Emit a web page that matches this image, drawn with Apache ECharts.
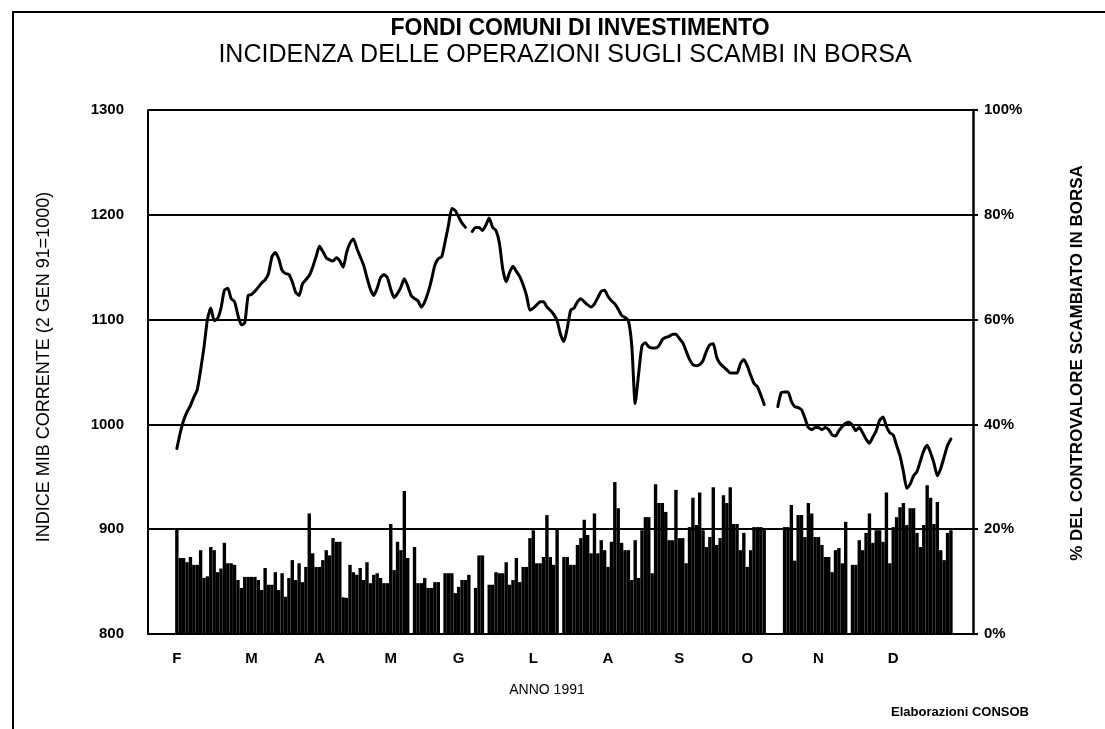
<!DOCTYPE html>
<html>
<head>
<meta charset="utf-8">
<script src="https://cdn.jsdelivr.net/npm/echarts@6/dist/echarts.min.js"></script>
<style>
  html, body { margin: 0; padding: 0; background: #fff; }
  #chart { width: 1105px; height: 729px; }
</style>
</head>
<body>
<div id="chart"></div>
<script>
// Mesi (etichette asse X) e giorno di borsa su cui cade ciascuna etichetta
const mesi = ['F', 'M', 'A', 'M', 'G', 'L', 'A', 'S', 'O', 'N', 'D'];
const giornoEtichetta = [0, 22, 42, 63, 83, 105, 127, 148, 168, 189, 211];

// Indice MIB corrente (2 gen 91 = 1000), un valore per giorno di borsa; null = dato mancante
const indiceMib = [
  977, 992, 1004, 1012, 1018, 1026, 1033, 1052, 1074, 1100, 1111, 1099, 1101, 1111, 1128, 1130,
  1120, 1117, 1104, 1095, 1097, 1123, 1124, 1127, 1131, 1135, 1138, 1144, 1160, 1164, 1158, 1147,
  1144, 1143, 1136, 1126, 1123, 1134, 1138, 1142, 1150, 1160, 1170, 1165, 1159, 1157, 1156, 1159,
  1156, 1150, 1164, 1173, 1177, 1168, 1160, 1152, 1140, 1129, 1123, 1130, 1140, 1143, 1140, 1129,
  1121, 1125, 1131, 1139, 1132, 1123, 1120, 1118, 1112, 1117, 1126, 1138, 1152, 1158, 1160, 1174,
  1190, 1206, 1204, 1198, 1192, 1188, null, 1184, 1188, 1188, 1185, 1190, 1197, 1188, 1185, 1173,
  1148, 1136, 1145, 1151, 1146, 1141, 1133, 1123, 1109, 1111, 1114, 1117, 1117, 1112, 1109, 1105,
  1099, 1086, 1079, 1092, 1109, 1111, 1117, 1120, 1117, 1114, 1112, 1115, 1121, 1127, 1128, 1122,
  1118, 1115, 1110, 1104, 1102, 1099, 1075, 1020, 1048, 1075, 1078, 1074, 1073, 1073, 1075, 1081,
  1083, 1084, 1086, 1086, 1082, 1078, 1070, 1062, 1057, 1056, 1057, 1061, 1070, 1076, 1077, 1064,
  1058, 1055, 1052, 1049, 1049, 1049, 1058, 1062, 1056, 1047, 1039, 1036, 1028, 1019, null, null,
  null, 1017, 1030, 1031, 1031, 1022, 1017, 1016, 1014, 1006, 997, 995, 997, 997, 995, 997,
  995, 990, 989, 994, 998, 1001, 1002, 999, 994, 997, 992, 986, 982, 988, 994, 1004,
  1007, 998, 992, 990, 980, 970, 955, 939, 943, 951, 955, 965, 975, 980, 973, 963,
  951, 958, 969, 980, 986
];

// % del controvalore scambiato in borsa, stesso calendario; null = seduta senza dato
const quotaScambi = [
  20, 14.5, 14.5, 13.7, 14.7, 13.2, 13.2, 16, 10.7, 11, 16.6, 16, 11.8, 12.5, 17.4, 13.5,
  13.5, 13.2, 10.3, 8.8, 10.9, 10.9, 10.9, 10.9, 10.3, 8.4, 12.6, 9.4, 9.4, 11.8, 8.4, 11.6,
  7.1, 10.7, 14.1, 10.3, 13.5, 9.9, 12.8, 23, 15.4, 12.8, 12.8, 14.1, 16, 15, 18.3, 17.6,
  17.6, 7, 6.9, 13.2, 11.8, 11.3, 12.6, 10.3, 13.7, 9.7, 11.3, 11.6, 10.7, 9.7, 9.7, 21,
  12.2, 17.6, 16, 27.3, 14.5, null, 16.6, 9.7, 9.7, 10.7, 8.8, 8.8, 9.9, 9.9, null, 11.6,
  11.6, 11.6, 7.8, 9, 10.3, 10.3, 11.3, null, 8.8, 15, 15, null, 9.4, 9.4, 11.8, 11.6,
  11.6, 13.7, 9.4, 10.3, 14.5, 9.9, 12.8, 12.8, 18.3, 19.8, 13.5, 13.5, 14.7, 22.7, 14.7, 13.2,
  20.2, null, 14.7, 14.7, 13.2, 13.2, 17, 18.3, 21.8, 18.9, 15.4, 23, 15.4, 17.9, 16, 12.8,
  17.6, 29, 24, 17.4, 16, 16, 10.3, 17.9, 10.7, 19.8, 22.3, 22.3, 11.6, 28.6, 25, 25,
  23.3, 17.9, 17.9, 27.5, 18.3, 18.3, 13.5, 20.4, 26, 20.8, 27, 19.8, 16.6, 18.5, 28, 17,
  18.3, 26.5, 25, 28, 21, 21, 16, 19.3, 12.8, 16, 20.4, 20.4, 20.4, 20, null, null,
  null, null, null, 20.4, 20.4, 24.6, 14, 22.7, 22.7, 18.5, 25, 23, 18.5, 18.5, 17, 14.7,
  14.7, 11.8, 16, 16.4, 13.5, 21.4, null, 13.2, 13.2, 17.9, 16, 19.3, 23, 17.4, 19.8, 19.8,
  17.6, 27, 13.5, 20.4, 22.3, 24.2, 25, 20.8, 24, 24, 19.3, 16.6, 20.8, 28.4, 26, 21,
  25.2, 16, 14.1, 19.3, 19.8
];

const tickIndice = [800, 900, 1000, 1100, 1200, 1300];
const tickQuota = [0, 20, 40, 60, 80, 100];

// margini vuoti dell'asse prima e dopo la serie giornaliera
const vuotiPrima = 8, vuotiDopo = 6;
const nSlot = vuotiPrima + indiceMib.length + vuotiDopo;
const pad = n => new Array(n).fill(null);
const slots = Array.from({ length: nSlot }, (_, i) => String(i));
const serieIndice = [...pad(vuotiPrima), ...indiceMib, ...pad(vuotiDopo)];
const serieQuota = [...pad(vuotiPrima), ...quotaScambi, ...pad(vuotiDopo)];
const posEtichette = giornoEtichetta.map(g => g + vuotiPrima);

const FONT = '"Liberation Sans", Arial, Helvetica, sans-serif';
const chart = echarts.init(document.getElementById('chart'), null, { renderer: 'canvas' });

chart.setOption({
  backgroundColor: '#fff',
  animation: false,
  title: [
    {
      text: 'FONDI COMUNI DI INVESTIMENTO',
      left: 575, top: 12, textAlign: 'center',
      textStyle: { fontFamily: FONT, fontSize: 23, fontWeight: 'bold', color: '#000' }
    },
    {
      text: 'INCIDENZA DELLE OPERAZIONI SUGLI SCAMBI IN BORSA',
      left: 560, top: 38, textAlign: 'center',
      textStyle: { fontFamily: FONT, fontSize: 25, fontWeight: 'normal', color: '#000' }
    }
  ],
  grid: { left: 148, right: 132, top: 110, bottom: 95, containLabel: false },
  xAxis: {
    type: 'category',
    data: slots,
    boundaryGap: true,
    axisLine: { show: true, lineStyle: { color: '#000', width: 2 } },
    axisTick: { show: false },
    axisLabel: {
      interval: (idx) => posEtichette.includes(idx),
      formatter: (v, idx) => {
        const k = posEtichette.indexOf(Number(v));
        return k >= 0 ? mesi[k] : '';
      },
      margin: 17,
      fontFamily: FONT, fontSize: 15, fontWeight: 'bold', color: '#000'
    },
    splitLine: { show: false }
  },
  yAxis: [
    {
      type: 'value',
      min: tickIndice[0], max: tickIndice[tickIndice.length - 1], interval: 100,
      position: 'left',
      axisLine: { show: true, lineStyle: { color: '#000', width: 2 } },
      axisTick: { show: false },
      axisLabel: {
        margin: 24, formatter: v => String(v),
        fontFamily: FONT, fontSize: 15, fontWeight: 'bold', color: '#000'
      },
      splitLine: { show: true, lineStyle: { color: '#000', width: 2 } }
    },
    {
      type: 'value',
      min: tickQuota[0], max: tickQuota[tickQuota.length - 1], interval: 20,
      position: 'right',
      axisLine: { show: true, lineStyle: { color: '#000', width: 2.5 } },
      axisTick: { show: true, inside: false, length: 5, lineStyle: { color: '#000', width: 2 } },
      axisLabel: { margin: 11, formatter: '{value}%', fontFamily: FONT, fontSize: 15, fontWeight: 'bold', color: '#000' },
      splitLine: { show: false }
    }
  ],
  series: [
    {
      name: '% controvalore',
      type: 'bar',
      yAxisIndex: 1,
      data: serieQuota,
      barCategoryGap: '0%',
      itemStyle: { color: '#000' },
      silent: true
    },
    {
      name: 'Indice MIB',
      type: 'line',
      yAxisIndex: 0,
      data: serieIndice,
      showSymbol: false,
      connectNulls: false,
      smooth: 0.2,
      lineStyle: { color: '#000', width: 3, cap: 'round', join: 'round' },
      silent: true,
      z: 5
    }
  ],
  graphic: [
    {
      type: 'polyline',
      shape: { points: [[13, 729], [13, 12], [1105, 12]] },
      style: { stroke: '#000', lineWidth: 2, fill: null }
    },
    {
      type: 'text', x: 44, y: 367, rotation: Math.PI / 2,
      style: {
        text: 'INDICE MIB CORRENTE (2 GEN 91=1000)',
        fontFamily: FONT, fontSize: 18, fill: '#000',
        textAlign: 'center', textVerticalAlign: 'middle'
      }
    },
    {
      type: 'text', x: 1077, y: 363, rotation: Math.PI / 2,
      style: {
        text: '% DEL CONTROVALORE SCAMBIATO IN BORSA',
        fontFamily: FONT, fontSize: 17, fontWeight: 'bold', fill: '#000',
        textAlign: 'center', textVerticalAlign: 'middle'
      }
    },
    {
      type: 'text', x: 547, y: 690,
      style: {
        text: 'ANNO 1991',
        fontFamily: FONT, fontSize: 14, fill: '#000',
        textAlign: 'center', textVerticalAlign: 'middle'
      }
    },
    {
      type: 'text', x: 960, y: 712,
      style: {
        text: 'Elaborazioni CONSOB',
        fontFamily: FONT, fontSize: 13, fontWeight: 'bold', fill: '#000',
        textAlign: 'center', textVerticalAlign: 'middle'
      }
    }
  ]
});
</script>
</body>
</html>
